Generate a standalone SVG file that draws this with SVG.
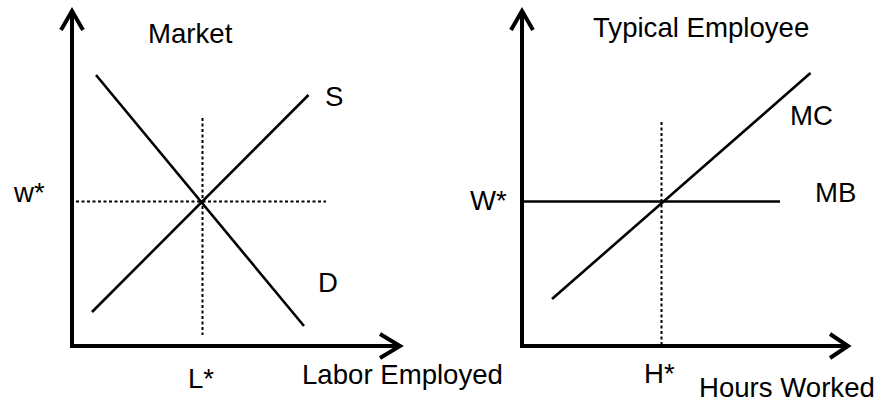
<svg xmlns="http://www.w3.org/2000/svg" width="874" height="400" viewBox="0 0 874 400">
<style>
.axis{stroke:#000;stroke-width:4;fill:none;stroke-linejoin:miter}
.curve{stroke:#000;stroke-width:2.6;fill:none}
.dot{stroke:#000;stroke-width:2;fill:none;stroke-dasharray:3 2.5}
text{font-family:"Liberation Sans",Arial,sans-serif;font-size:27.6px;fill:#000}
</style>
<rect width="874" height="400" fill="#fff"/>
<g id="market">
  <g id="market-axes">
    <polyline class="axis" points="72,12 72,346 398,346"/>
    <polyline class="axis" points="61,30 72,11 83,30"/>
    <polyline class="axis" points="380,334 400,346 380,358"/>
  </g>
  <g id="market-lines">
    <line class="dot" x1="202.5" y1="118" x2="202.5" y2="335"/>
    <line class="dot" x1="76" y1="201.5" x2="326" y2="201.5"/>
    <line id="demand" class="curve" x1="96" y1="75" x2="304" y2="326"/>
    <line id="supply" class="curve" x1="92" y1="312" x2="308.5" y2="95"/>
  </g>
  <g id="market-labels">
    <text x="148" y="43">Market</text>
    <text x="325" y="106">S</text>
    <text x="318" y="292">D</text>
    <text x="14" y="202">w*</text>
    <text x="188" y="388">L*</text>
    <text x="302" y="384">Labor Employed</text>
  </g>
</g>
<g id="employee">
  <g id="employee-axes">
    <polyline class="axis" points="522,12 522,346 846,346"/>
    <polyline class="axis" points="511,30 522,11 533,30"/>
    <polyline class="axis" points="830,334 848,346 830,358"/>
  </g>
  <g id="employee-lines">
    <line class="dot" x1="661.5" y1="122" x2="661.5" y2="346"/>
    <line id="mb" class="curve" x1="522" y1="201.5" x2="780" y2="201.5"/>
    <line id="mc" class="curve" x1="552" y1="299" x2="810.5" y2="73"/>
  </g>
  <g id="employee-labels">
    <text x="593" y="37">Typical Employee</text>
    <text x="790" y="125">MC</text>
    <text x="815" y="202">MB</text>
    <text x="470" y="210">W*</text>
    <text x="644" y="383">H*</text>
    <text x="699" y="397">Hours Worked</text>
  </g>
</g>
</svg>
